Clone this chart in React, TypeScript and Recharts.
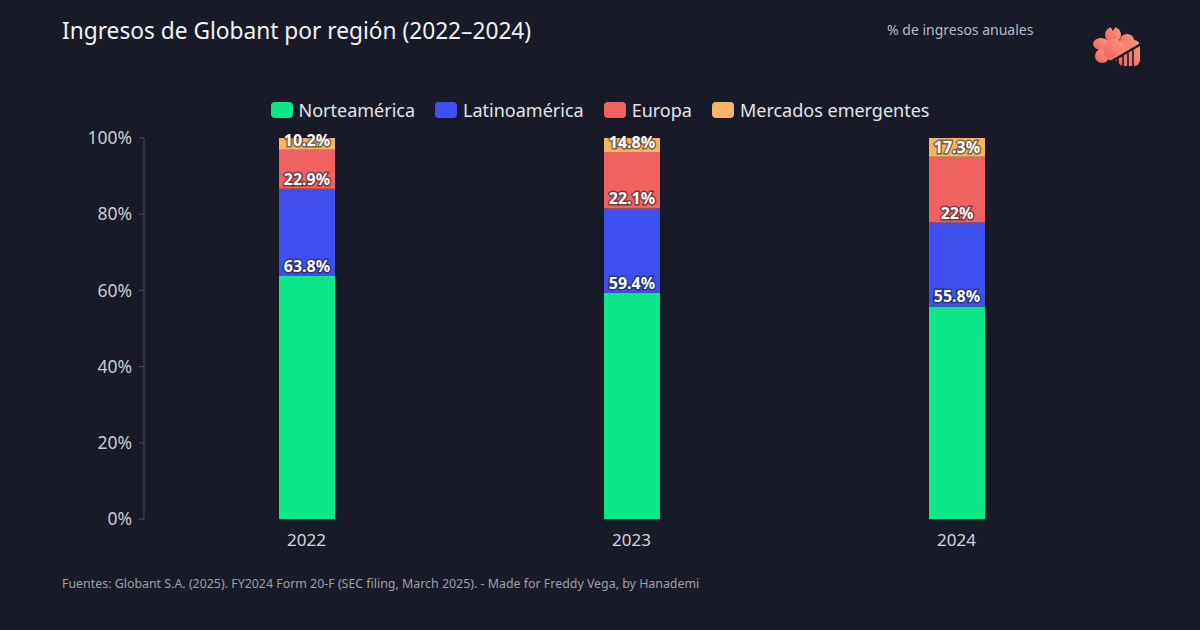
import { BarChart, Bar, XAxis, YAxis, LabelList } from "recharts";

document.body.style.margin = "0";

const years = ["2022", "2023", "2024"];
const norteamerica = [63.8, 59.4, 55.8];
const latinoamerica = [22.9, 22.1, 22];
const europa = [10.2, 14.8, 17.3];
const emergentes = [3.1, 3.7, 4.9];
const yTicks = [0, 20, 40, 60, 80, 100];

const SERIES = [
    { key: "norteamerica", name: "Norteamérica", color: "#0ce889", values: norteamerica, label: true },
    { key: "latinoamerica", name: "Latinoamérica", color: "#4050f0", values: latinoamerica, label: true },
    { key: "europa", name: "Europa", color: "#f06262", values: europa, label: true },
    { key: "emergentes", name: "Mercados emergentes", color: "#f5b566", values: emergentes, label: false },
];

const BG = "#181b27";
const FONT = "'Noto Sans', Roboto, sans-serif";

const chartData = years.map((year, i) => {
    const row: any = { year };
    SERIES.forEach((s) => {
        row[s.key] = s.values[i];
    });
    return row;
});

// little blossom logo, top right
const Logo = () => (
    <svg width={60} height={50} viewBox="0 0 60 50" style={{ position: "absolute", left: 1088, top: 22 }}>
        <defs>
            <linearGradient id="petal" x1="0" y1="1" x2="1" y2="0">
                <stop offset="0%" stopColor="#f0605f" />
                <stop offset="100%" stopColor="#ff9b7c" />
            </linearGradient>
        </defs>
        <g fill="url(#petal)">
            <ellipse cx={25} cy={13} rx={8} ry={8} />
            <ellipse cx={13} cy={22} rx={8} ry={6} />
            <ellipse cx={14} cy={34} rx={7} ry={7} />
            <ellipse cx={39} cy={18} rx={7} ry={6} />
            <rect x={30} y={18} width={22} height={26} rx={6} />
            <circle cx={26} cy={28} r={11} />
        </g>
        <path d="M22 4 L25 9 L28 4 Z" fill={BG} />
        <line x1={14} y1={45} x2={53} y2={22} stroke={BG} strokeWidth={2.5} />
        <line x1={30} y1={37} x2={30} y2={46} stroke={BG} strokeWidth={1.6} />
        <line x1={35} y1={34} x2={35} y2={46} stroke={BG} strokeWidth={1.6} />
        <line x1={40} y1={31} x2={40} y2={46} stroke={BG} strokeWidth={1.6} />
        <line x1={45} y1={28} x2={45} y2={46} stroke={BG} strokeWidth={1.6} />
    </svg>
);

export default function App() {
    return (
        <div style={{ position: "relative", width: 1200, height: 630, background: BG, fontFamily: FONT, overflow: "hidden" }}>
            <div style={{ position: "absolute", left: 62, top: 20, fontSize: 22.7, lineHeight: 1, color: "#f2f2f5" }}>
                Ingresos de Globant por región (2022–2024)
            </div>
            <div style={{ position: "absolute", left: 887, top: 23, fontSize: 14, lineHeight: 1, color: "#b8bac2" }}>
                % de ingresos anuales
            </div>
            <Logo />
            <div
                style={{
                    position: "absolute",
                    left: 0,
                    width: 1200,
                    top: 100,
                    display: "flex",
                    justifyContent: "center",
                    gap: 20,
                    fontSize: 18,
                    lineHeight: "20px",
                    color: "#e4e4ea",
                }}
            >
                {SERIES.map((s) => (
                    <div key={s.key} style={{ display: "flex", alignItems: "center", gap: 6 }}>
                        <span style={{ width: 22, height: 16, borderRadius: 4, background: s.color, display: "inline-block" }} />
                        <span>{s.name}</span>
                    </div>
                ))}
            </div>
            <div style={{ position: "absolute", left: 0, top: 0 }}>
                <BarChart width={1200} height={630} data={chartData} margin={{ top: 138, right: 81, bottom: 81, left: 0 }}>
                    <XAxis
                        dataKey="year"
                        axisLine={false}
                        tickLine={false}
                        tickMargin={9}
                        height={30}
                        tick={{ fill: "#d4d5db", fontSize: 17 }}
                    />
                    <YAxis
                        width={144}
                        domain={[0, 100]}
                        ticks={yTicks}
                        tickFormatter={(v) => `${v}%`}
                        axisLine={{ stroke: "#4a4d58" }}
                        tickLine={{ stroke: "#4a4d58" }}
                        tickSize={5}
                        tickMargin={7}
                        tick={{ fill: "#c9cad0", fontSize: 17.5 }}
                    />
                    {SERIES.map((s) => (
                        <Bar
                            key={s.key}
                            dataKey={s.key}
                            name={s.name}
                            stackId="a"
                            fill={s.color}
                            barSize={56}
                            isAnimationActive={false}
                        >
                            {s.label && (
                                <LabelList
                                    dataKey={s.key}
                                    position="top"
                                    offset={4}
                                    formatter={(v: any) => `${v}%`}
                                    fill="#ffffff"
                                    fontSize={16}
                                    fontWeight={700}
                                    style={{ paintOrder: "stroke", stroke: "rgba(25,27,40,0.55)", strokeWidth: 3 }}
                                />
                            )}
                        </Bar>
                    ))}
                </BarChart>
            </div>
            <div style={{ position: "absolute", left: 62, top: 578, fontSize: 12.4, lineHeight: 1, color: "#9c9ea8" }}>
                Fuentes: Globant S.A. (2025). FY2024 Form 20-F (SEC filing, March 2025). - Made for Freddy Vega, by Hanademi
            </div>
        </div>
    );
}
